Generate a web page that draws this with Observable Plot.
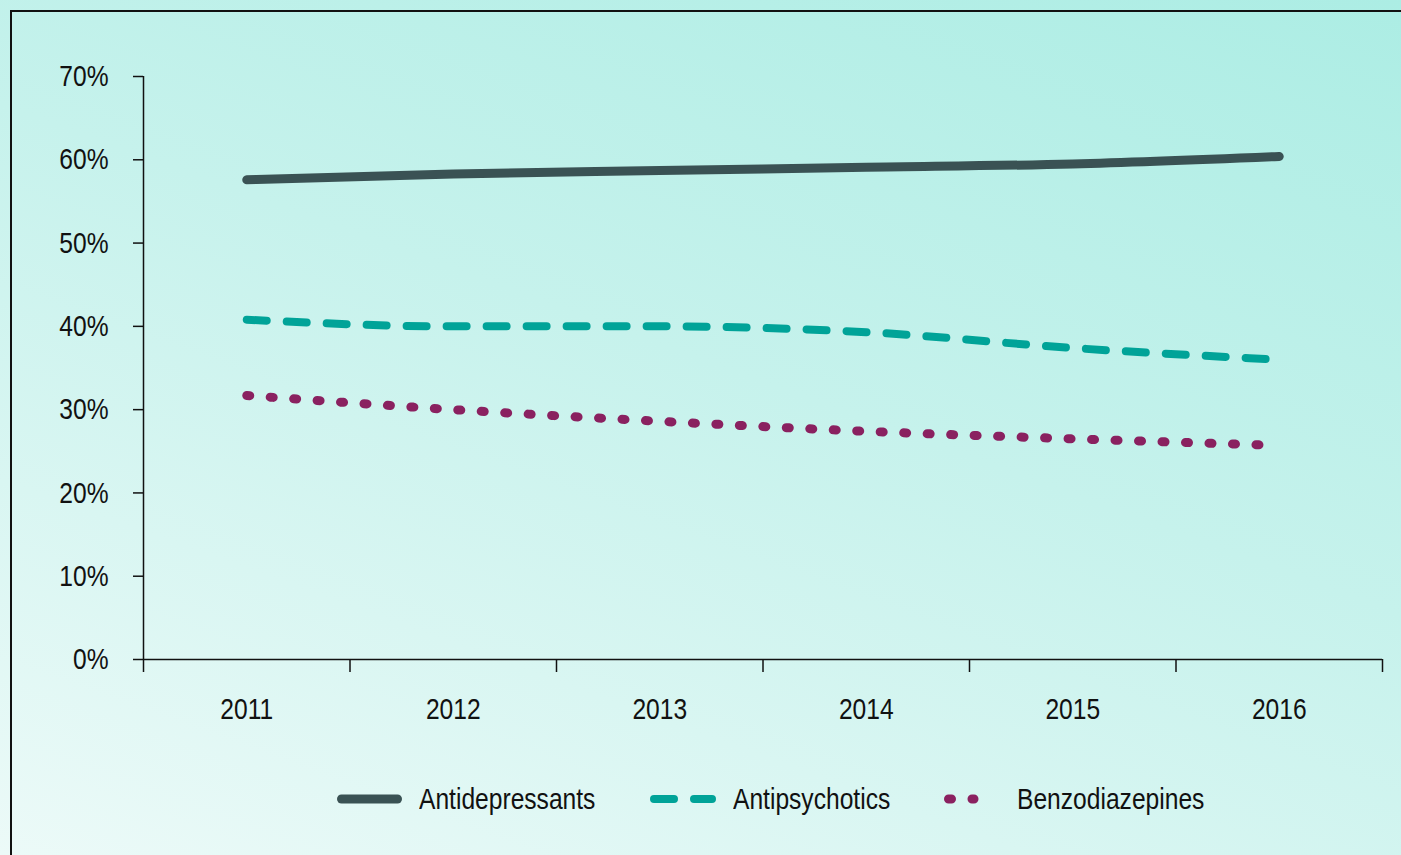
<!DOCTYPE html>
<html>
<head>
<meta charset="utf-8">
<script src="https://cdn.jsdelivr.net/npm/d3@7"></script>
<script src="https://cdn.jsdelivr.net/npm/@observablehq/plot@0.6"></script>
<style>
  html, body { margin: 0; padding: 0; }
  body {
    width: 1401px; height: 855px; overflow: hidden; position: relative;
    background: linear-gradient(200deg, #acede4 0%, #c6f2ec 45%, #ecfaf8 100%);
    font-family: "Liberation Sans", Arial, sans-serif;
  }
  #frame {
    position: absolute; left: 10px; top: 10px; width: 1500px; height: 1000px;
    border-left: 2px solid #111; border-top: 2px solid #111; box-sizing: border-box;
  }
  #chart { position: absolute; left: 0; top: 0; }
  #legend { position: absolute; left: 0; top: 0; width: 1401px; height: 855px; pointer-events: none; }
  .item { position: absolute; top: 782px; height: 34px; display: flex; align-items: center; }
  .item span { font-size: 30px; color: #111; margin-left: 17px; display: inline-block; transform: scaleX(0.82); transform-origin: left center; white-space: nowrap; }
</style>
</head>
<body>
<div id="frame"></div>
<div id="chart"></div>
<div id="legend"></div>
<script>
const years = [2011, 2012, 2013, 2014, 2015, 2016];
const seriesNames = ["Antidepressants", "Antipsychotics", "Benzodiazepines"];
const antidepressants = [57.6, 58.3, 58.7, 59.1, 59.5, 60.4];
const antipsychotics = [40.8, 40.0, 40.0, 39.3, 37.4, 36.0];
const benzodiazepines = [31.7, 30.0, 28.6, 27.4, 26.5, 25.7];
const yTicks = [0, 10, 20, 30, 40, 50, 60, 70];

const colors = {Antidepressants: "#3a5254", Antipsychotics: "#00a398", Benzodiazepines: "#8a2160"};
const widths = {Antidepressants: 9, Antipsychotics: 8, Benzodiazepines: 9};
const dashes = {Antidepressants: null, Antipsychotics: "20,20", Benzodiazepines: "3,20.5"};

const valuesBySeries = {Antidepressants: antidepressants, Antipsychotics: antipsychotics, Benzodiazepines: benzodiazepines};
const data = seriesNames.flatMap(s => years.map((y, i) => ({series: s, year: y, value: valuesBySeries[s][i]})));
const bounds = [years[0] - 0.5, ...years.map(y => y + 0.5)];

const font = '"Liberation Sans", Arial, sans-serif';

const plot = Plot.plot({
  width: 1401,
  height: 760,
  marginLeft: 143,
  marginRight: 19,
  marginTop: 76,
  marginBottom: 101,
  style: {background: "transparent", fontFamily: font, fontSize: "30px", color: "#111", overflow: "visible"},
  x: {domain: [bounds[0], bounds[bounds.length - 1]], axis: null},
  y: {domain: [0, 70], axis: null},
  marks: [
    Plot.axisY({ticks: yTicks, tickFormat: d => d + "%", tickSize: 10, tickPadding: 25, stroke: "#111", strokeWidth: 1.5, fontSize: 30, label: null}),
    Plot.axisX({ticks: bounds, tickFormat: () => "", tickSize: 13, stroke: "#111", strokeWidth: 1.5, label: null}),
    Plot.axisX({ticks: years, tickFormat: d => String(d), tickSize: 0, tickPadding: 38, fontSize: 30, label: null}),
    Plot.ruleX([bounds[0]], {stroke: "#111", strokeWidth: 1.5}),
    Plot.ruleY([0], {stroke: "#111", strokeWidth: 1.5}),
    ...seriesNames.map(s => Plot.line(data.filter(d => d.series === s), {
      x: "year", y: "value", stroke: colors[s], strokeWidth: widths[s],
      strokeDasharray: dashes[s], strokeLinecap: "round", strokeLinejoin: "round",
      curve: "monotone-x"
    }))
  ]
});
// condense tick label glyphs horizontally (narrow typeface look)
d3.select(plot).selectAll("text").each(function() {
  const t = this.getAttribute("transform") || "";
  this.setAttribute("transform", (t + " scale(0.82,1)").trim());
});
document.getElementById("chart").appendChild(plot);

// Legend
const legendPos = {Antidepressants: {left: 337, sw: 65}, Antipsychotics: {left: 650, sw: 66}, Benzodiazepines: {left: 944, sw: 56}};
const legend = document.getElementById("legend");
seriesNames.forEach(s => {
  const item = document.createElement("div");
  item.className = "item";
  item.style.left = legendPos[s].left + "px";
  const sw = legendPos[s].sw;
  const svg = d3.create("svg").attr("width", sw).attr("height", 14);
  const w = widths[s];
  svg.append("line")
    .attr("x1", w / 2).attr("x2", s === "Benzodiazepines" ? 30 : sw - w / 2)
    .attr("y1", 7).attr("y2", 7)
    .attr("stroke", colors[s]).attr("stroke-width", w)
    .attr("stroke-linecap", "round")
    .attr("stroke-dasharray", dashes[s]);
  item.appendChild(svg.node());
  const span = document.createElement("span");
  span.textContent = s;
  item.appendChild(span);
  legend.appendChild(item);
});
</script>
</body>
</html>
